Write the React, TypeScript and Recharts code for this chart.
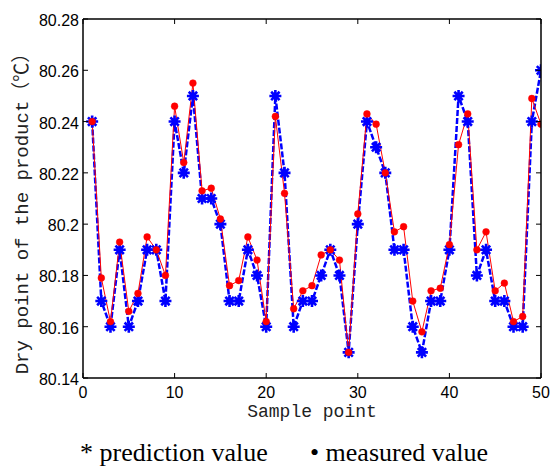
import React from 'react';
import { LineChart, Line, XAxis, YAxis } from 'recharts';

const samplePoints: number[] = Array.from({ length: 50 }, (_, i) => i + 1);

const predictionValues: number[] = [
  80.24, 80.17, 80.16, 80.19, 80.16, 80.17, 80.19, 80.19, 80.17, 80.24,
  80.22, 80.25, 80.21, 80.21, 80.20, 80.17, 80.17, 80.19, 80.18, 80.16,
  80.25, 80.22, 80.16, 80.17, 80.17, 80.18, 80.19, 80.18, 80.15, 80.20,
  80.24, 80.23, 80.22, 80.19, 80.19, 80.16, 80.15, 80.17, 80.17, 80.19,
  80.25, 80.24, 80.18, 80.19, 80.17, 80.17, 80.16, 80.16, 80.24, 80.26,
];

const measuredValues: number[] = [
  80.240, 80.179, 80.162, 80.193, 80.166, 80.173, 80.195, 80.190, 80.180, 80.246,
  80.224, 80.255, 80.213, 80.214, 80.202, 80.176, 80.178, 80.195, 80.186, 80.162,
  80.242, 80.212, 80.167, 80.174, 80.176, 80.188, 80.190, 80.186, 80.150, 80.204,
  80.243, 80.239, 80.220, 80.197, 80.199, 80.170, 80.158, 80.174, 80.175, 80.192,
  80.231, 80.243, 80.190, 80.197, 80.174, 80.177, 80.162, 80.164, 80.249, 80.239,
];

const xTicks: number[] = [0, 10, 20, 30, 40, 50];
const yTicks: number[] = [80.14, 80.16, 80.18, 80.2, 80.22, 80.24, 80.26, 80.28];
const yTickLabels: string[] = ['80.14', '80.16', '80.18', '80.2', '80.22', '80.24', '80.26', '80.28'];

const data = samplePoints.map((x, i) => ({
  x,
  pred: predictionValues[i],
  meas: measuredValues[i],
}));

const CHART_W = 550;
const CHART_H = 470;
const MARGIN = { top: 19, right: 9, left: 0, bottom: 62 };
const Y_AXIS_W = 83;
const X_AXIS_H = 30;
const PLOT_W = CHART_W - MARGIN.left - MARGIN.right - Y_AXIS_W;
const PLOT_H = CHART_H - MARGIN.top - MARGIN.bottom - X_AXIS_H;

const TICK_FONT = '"Liberation Sans", Arial, sans-serif';
const MONO_FONT = '"Liberation Mono", "Noto Sans CJK SC", monospace';

// Bottom ticks: inward tick on bottom and top edge; the first tick also draws the top and right borders.
const BottomTick = (props: any) => {
  const { x, y, payload, index } = props;
  const topY = y - PLOT_H;
  return (
    <g>
      {index === 0 && (
        <g>
          <line x1={x} y1={topY} x2={x + PLOT_W} y2={topY} stroke="#000" strokeWidth={1.5} />
          <line x1={x + PLOT_W} y1={topY} x2={x + PLOT_W} y2={y} stroke="#000" strokeWidth={1.5} />
        </g>
      )}
      <line x1={x} y1={y} x2={x} y2={y - 5} stroke="#000" strokeWidth={1} />
      <line x1={x} y1={topY} x2={x} y2={topY + 5} stroke="#000" strokeWidth={1} />
      <text x={x} y={y + 20} textAnchor="middle" fontSize={16} fontFamily={TICK_FONT} fill="#000">
        {payload.value}
      </text>
    </g>
  );
};

// Left ticks: inward tick on left and right edge plus the label.
const LeftTick = (props: any) => {
  const { x, y, payload, index } = props;
  const label = yTickLabels[index] ?? String(payload.value);
  const rightX = x + PLOT_W;
  return (
    <g>
      <line x1={x} y1={y} x2={x + 5} y2={y} stroke="#000" strokeWidth={1} />
      <line x1={rightX} y1={y} x2={rightX - 5} y2={y} stroke="#000" strokeWidth={1} />
      <text x={x - 4} y={y + 7} textAnchor="end" fontSize={16} fontFamily={TICK_FONT} fill="#000">
        {label}
      </text>
    </g>
  );
};

const Titles = () => (
  <g>
    <text x={312} y={417} textAnchor="middle" fontSize={18} fontFamily={MONO_FONT} fill="#222">
      Sample point
    </text>
    <text
      x={28}
      y={209}
      transform="rotate(-90, 28, 209)"
      textAnchor="middle"
      fontSize={19}
      fontFamily={MONO_FONT}
      fill="#222"
    >
      Dry point of the product（℃）
    </text>
  </g>
);

const StarDot = (props: any) => {
  const { cx, cy, index } = props;
  if (cx == null || cy == null) return <g key={`s-${index}`} />;
  const a = 6;
  const d = 4.2;
  const path = `M${cx - a},${cy}H${cx + a}M${cx},${cy - a}V${cy + a}M${cx - d},${cy - d}L${cx + d},${cy + d}M${cx - d},${cy + d}L${cx + d},${cy - d}`;
  return <path key={`s-${index}`} d={path} stroke="#0000ff" strokeWidth={2.6} fill="none" />;
};

const RedDot = (props: any) => {
  const { cx, cy, index } = props;
  if (cx == null || cy == null) return <g key={`r-${index}`} />;
  return <circle key={`r-${index}`} cx={cx} cy={cy} r={3.4} fill="#ff0000" stroke="#ff0000" strokeWidth={0.5} />;
};

export default function App() {
  return (
    <div style={{ position: 'absolute', left: 0, top: 0, width: CHART_W, height: CHART_H, background: '#fff' }}>
      <LineChart width={CHART_W} height={CHART_H} data={data} margin={MARGIN}>
        <XAxis
          xAxisId="bottom"
          dataKey="x"
          type="number"
          domain={[0, 50]}
          ticks={xTicks}
          interval={0}
          allowDataOverflow
          height={X_AXIS_H}
          tickSize={0}
          tickMargin={0}
          tickLine={false}
          tick={<BottomTick />}
          axisLine={{ stroke: '#000', strokeWidth: 1.5 }}
        />
        <YAxis
          yAxisId="left"
          type="number"
          domain={[80.14, 80.28]}
          ticks={yTicks}
          interval={0}
          allowDataOverflow
          width={Y_AXIS_W}
          tickSize={0}
          tickMargin={0}
          tickLine={false}
          tick={<LeftTick />}
          axisLine={{ stroke: '#000', strokeWidth: 1.5 }}
        />
        <Titles />
        <Line
          xAxisId="bottom"
          yAxisId="left"
          type="linear"
          dataKey="pred"
          stroke="#0000ff"
          strokeWidth={2.5}
          strokeDasharray="6 2"
          dot={<StarDot />}
          activeDot={false}
          isAnimationActive={false}
        />
        <Line
          xAxisId="bottom"
          yAxisId="left"
          type="linear"
          dataKey="meas"
          stroke="#ff0000"
          strokeWidth={1}
          dot={<RedDot />}
          activeDot={false}
          isAnimationActive={false}
        />
      </LineChart>
      <div
        style={{
          position: 'absolute',
          top: 438,
          left: 0,
          width: CHART_W,
          height: 32,
          fontFamily: '"Liberation Serif", "Times New Roman", serif',
          fontSize: 26,
          color: '#000',
          whiteSpace: 'nowrap',
        }}
      >
        <span style={{ position: 'absolute', left: 80 }}>* prediction value</span>
        <span style={{ position: 'absolute', left: 310 }}>• measured value</span>
      </div>
    </div>
  );
}
